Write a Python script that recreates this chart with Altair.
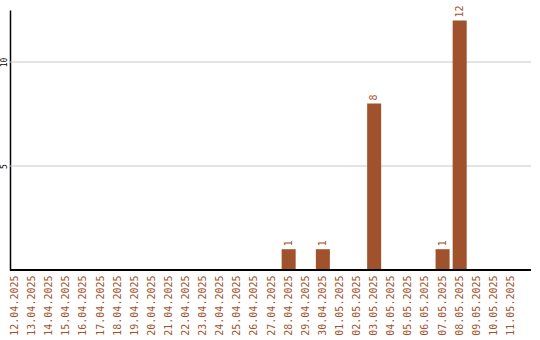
import altair as alt
import pandas as pd

dates = [
    "12.04.2025", "13.04.2025", "14.04.2025", "15.04.2025", "16.04.2025",
    "17.04.2025", "18.04.2025", "19.04.2025", "20.04.2025", "21.04.2025",
    "22.04.2025", "23.04.2025", "24.04.2025", "25.04.2025", "26.04.2025",
    "27.04.2025", "28.04.2025", "29.04.2025", "30.04.2025", "01.05.2025",
    "02.05.2025", "03.05.2025", "04.05.2025", "05.05.2025", "06.05.2025",
    "07.05.2025", "08.05.2025", "09.05.2025", "10.05.2025", "11.05.2025",
]
counts = [
    0, 0, 0, 0, 0,
    0, 0, 0, 0, 0,
    0, 0, 0, 0, 0,
    0, 1, 0, 1, 0,
    0, 8, 0, 0, 0,
    1, 12, 0, 0, 0,
]
y_ticks = [5, 10]

df = pd.DataFrame({"date": dates, "count": counts})
grid_df = pd.DataFrame({"tick": y_ticks})

BAR = "#a0522d"
FONT = "DejaVu Sans Mono"
W, H = 521, 260

y_scale = alt.Scale(domain=[0, 12.5], nice=False)

x = alt.X(
    "date:N",
    sort=dates,
    scale=alt.Scale(range=[-2, 508], paddingInner=0.18, paddingOuter=0),
    axis=alt.Axis(
        title=None,
        labelAngle=270,
        labelAlign="right",
        labelBaseline="middle",
        labelFont=FONT,
        labelFontSize=10,
        labelColor=BAR,
        labelPadding=5,
        ticks=False,
        domain=False,
        grid=False,
        labelOverlap=False,
    ),
)

y = alt.Y(
    "count:Q",
    scale=y_scale,
    axis=alt.Axis(
        title=None,
        values=y_ticks,
        labelAngle=270,
        labelAlign="center",
        labelBaseline="middle",
        labelFont=FONT,
        labelFontSize=8,
        labelColor="black",
        labelPadding=6,
        ticks=False,
        domainColor="black",
        domainWidth=1.5,
        grid=False,
    ),
)

# horizontal grid lines spanning the full plot width
grid = (
    alt.Chart(grid_df)
    .mark_rule(color="#c8c8c8", strokeWidth=1)
    .encode(x=alt.value(0), x2=alt.value(W), y=alt.Y("tick:Q", scale=y_scale))
)

bars = alt.Chart(df).mark_bar(color=BAR).encode(x=x, y=y)

labels = (
    alt.Chart(df)
    .transform_filter("datum.count > 0")
    .mark_text(
        angle=270,
        align="left",
        baseline="middle",
        dx=3,
        font=FONT,
        fontSize=10,
        color=BAR,
    )
    .encode(x=x, y=y, text="count:Q")
)

# baseline along the bottom of the plot area
baseline = (
    alt.Chart(df)
    .mark_rule(color="black", strokeWidth=1.5)
    .encode(x=alt.value(0), x2=alt.value(W), y=alt.value(H))
)

chart = (
    alt.layer(grid, bars, labels, baseline)
    .properties(
        width=W,
        height=H,
        background="white",
        autosize=alt.AutoSizeParams(type="none"),
        padding={"left": 10, "top": 10, "right": 9, "bottom": 70},
    )
    .configure_view(strokeWidth=0, stroke=None)
)

chart.save("out.html", embed_options={"renderer": "svg", "actions": False})
